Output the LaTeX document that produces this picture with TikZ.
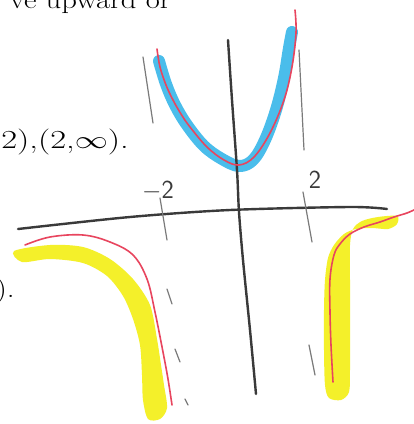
\documentclass[tikz,border=0pt]{standalone}
\usepackage{amsmath,amssymb}
\usepackage{graphicx}
\definecolor{pencil}{HTML}{3A3A3A}
\definecolor{faint}{HTML}{7A7A7A}
\definecolor{hlyellow}{HTML}{F4F02A}
\definecolor{hlblue}{HTML}{4ABDEB}
\definecolor{redpen}{HTML}{E8455E}

\begin{document}
\begin{tikzpicture}[x=1pt, y=-1pt,
  axisline/.style={pencil, line width=2.4pt, line cap=round},
  asymline/.style={faint, line width=1.2pt, line cap=round},
  redline/.style={redpen, line width=1.6pt, line cap=round, line join=round},
  bookfont/.style={font=\fontsize{26}{30}\selectfont, inner sep=0pt},
  handfont/.style={text=pencil, font=\sffamily\fontsize{26}{26}\selectfont, inner sep=0pt}]

% Frame
\useasboundingbox (0,0) rectangle (414,424);
\clip (0,0) rectangle (414,424);
\fill[white] (0,0) rectangle (414,424);

% Book text around the sketch
\node[bookfont, anchor=base east] (topline) at (171,8) {\scalebox{1.18}[1]{ve upward or}};
\node[bookfont, anchor=base east] (intervals) at (129,148) {\scalebox{1.33}[1]{2),(2,$\infty$).}};
\node[bookfont, anchor=base east] (closing) at (15,297) {\scalebox{1.2}[1]{).}};

% Yellow highlighter, left branch
\fill[hlyellow] plot[smooth cycle, tension=0.5] coordinates {
  (14,251) (50,245) (83,247) (110,259) (133,279) (150,305) (157,339)
  (161,365) (164,385) (167,408) (160,419) (148,419) (143,400) (142,375)
  (140,345) (133,319) (123,296) (107,276) (83,263) (50,259) (22,262)};

% Yellow highlighter, right branch
\fill[hlyellow] plot[smooth cycle, tension=0.5] coordinates {
  (397,216) (378,217) (362,221) (353,229) (350,245) (350,280) (350,330)
  (350,370) (349,392) (341,400) (329,398) (325,385) (324,350) (324,310)
  (325,280) (328,258) (334,245) (344,234) (356,229) (372,228) (388,229)
  (397,224)};

% Blue highlighter, middle branch
\draw[hlblue, line width=12pt, line cap=round, line join=round]
  plot[smooth, tension=0.6] coordinates {
  (159,61) (166,84) (175,105) (187,125) (204,146) (222,159) (239,166)
  (253,160) (265,140) (276,110) (284,78) (289,48) (292,32)};

% Axes
\draw[axisline] plot[smooth] coordinates {
  (18,229) (130,217) (230,210) (350,207) (387,209)};
\draw[axisline] plot[smooth] coordinates {
  (228,40) (232,100) (237,170) (239,212) (243,260) (250,330) (256,394)};

% Asymptote x=-2
\draw[asymline] (143,57) -- (153,123);
\draw[asymline] (160,198) -- (167,240);
\draw[asymline] (167,289) -- (172,304);
\draw[asymline] (175,349) -- (180,362);
\draw[asymline] (185,399) -- (188,405);

% Asymptote x=2
\draw[asymline] (299,50) -- (304,150);
\draw[asymline] (303,192) -- (312,242);
\draw[asymline] (309,345) -- (315,375);

% Labels on the asymptotes
\node[handfont] (lblneg) at (158,191) {$-$2};
\node[handfont] (lblpos) at (315,180) {2};

% Red pen curves
\draw[redline] plot[smooth, tension=0.6] coordinates {
  (157,49) (160,67) (166,85) (173,100) (181,114) (190,127) (207,147)
  (224,160) (239,165) (254,157) (270,133) (284,100) (292,67) (296,33)
  (295,10)};
\draw[redline] plot[smooth, tension=0.6] coordinates {
  (25,245) (50,237) (83,235) (110,242) (133,255) (147,279) (155,312)
  (163,352) (168,379) (172,405)};
\draw[redline] plot[smooth, tension=0.6] coordinates {
  (333,382) (331,345) (330,312) (330,279) (334,255) (340,244) (350,234)
  (364,227) (380,222) (394,217) (407,213) (416,209)};

\end{tikzpicture}
\end{document}
